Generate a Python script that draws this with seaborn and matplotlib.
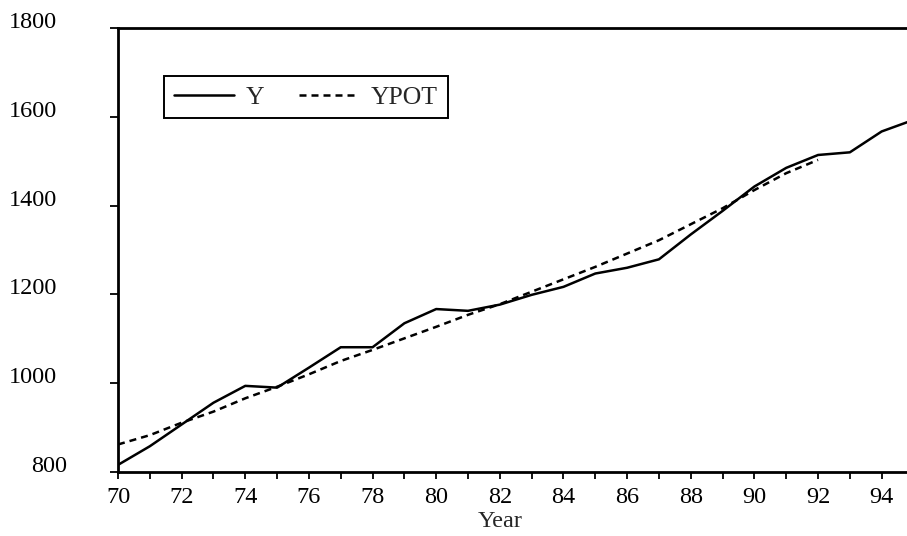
import matplotlib
matplotlib.use("Agg")
from matplotlib import pyplot as plt
import matplotlib.transforms as mtransforms
from matplotlib.ticker import MultipleLocator
import numpy as np
import pandas as pd
import seaborn as sns

# === Data ===
years = list(range(70, 96))
y_actual = [816, 858, 907, 956, 994, 990, 1035, 1081, 1081, 1135, 1167, 1163, 1177,
            1199, 1217, 1247, 1260, 1279, 1335, 1388, 1443, 1485, 1514, 1520, 1567, 1593]
pot_years = list(range(70, 93))
y_pot = [862, 883, 911, 936, 966, 992, 1020, 1050, 1075, 1101, 1127, 1154, 1178,
         1206, 1234, 1262, 1292, 1322, 1358, 1394, 1435, 1473, 1503]
y_ticks = [800, 1000, 1200, 1400, 1600, 1800]
x_ticks = list(range(70, 96, 2))

df_y = pd.DataFrame({"Year": years, "value": y_actual})
df_pot = pd.DataFrame({"Year": pot_years, "value": y_pot})

sns.set_style("ticks")
plt.rcParams["font.family"] = ["Liberation Serif", "DejaVu Serif"]
plt.rcParams["font.size"] = 17.5

DASH = (2.8, 2.0)

fig = plt.figure(figsize=(9.07, 5.36), dpi=100)
# axes runs a little past the right edge, like the scanned original
ax = fig.add_axes([118 / 907, 64 / 536, 795.5 / 907, 444 / 536])

sns.lineplot(data=df_y, x="Year", y="value", ax=ax, color="black", lw=1.8, label="Y")
sns.lineplot(data=df_pot, x="Year", y="value", ax=ax, color="black", lw=1.8,
             dashes=False, label="YPOT")
ax.lines[1].set_dashes(DASH)

ax.set_xlim(70, 95)
ax.set_ylim(800, 1800)
ax.set_xticks(x_ticks)
ax.set_xticklabels([str(t) for t in x_ticks])
ax.xaxis.set_minor_locator(MultipleLocator(1))
ax.set_yticks(y_ticks)
ax.set_yticklabels([str(t) for t in y_ticks])

for side in ["left", "bottom", "top", "right"]:
    ax.spines[side].set_visible(True)
    ax.spines[side].set_linewidth(2.0)
    ax.spines[side].set_color("black")

ax.tick_params(axis="x", which="both", direction="out", length=5, width=1.3,
               pad=6, colors="black", labelsize=17.5)
ax.tick_params(axis="y", which="major", direction="out", length=6, width=1.3,
               pad=38, colors="black", labelsize=17.5)
for lbl in ax.get_yticklabels():
    lbl.set_verticalalignment("baseline")
# the 800 label sits a bit further right in the original
lbl800 = ax.get_yticklabels()[0]
lbl800.set_transform(lbl800.get_transform() +
                     mtransforms.ScaledTranslation(10 / 100, 0, fig.dpi_scale_trans))

ax.set_ylabel("")
ax.set_xlabel("Year", fontsize=17.5)
ax.xaxis.set_label_coords(0.48, -0.088)

leg = ax.legend(loc="upper left", bbox_to_anchor=(0.058, 0.892), borderaxespad=0,
                ncol=2, frameon=True, fancybox=False, handlelength=2.35,
                handletextpad=0.45, columnspacing=1.35, borderpad=0.38,
                fontsize=18.5)
leg.get_frame().set_edgecolor("black")
leg.get_frame().set_linewidth(1.4)
leg.get_frame().set_alpha(1)
leg.get_lines()[1].set_dashes(DASH)

plt.savefig("out.png", dpi=100)
plt.close()
